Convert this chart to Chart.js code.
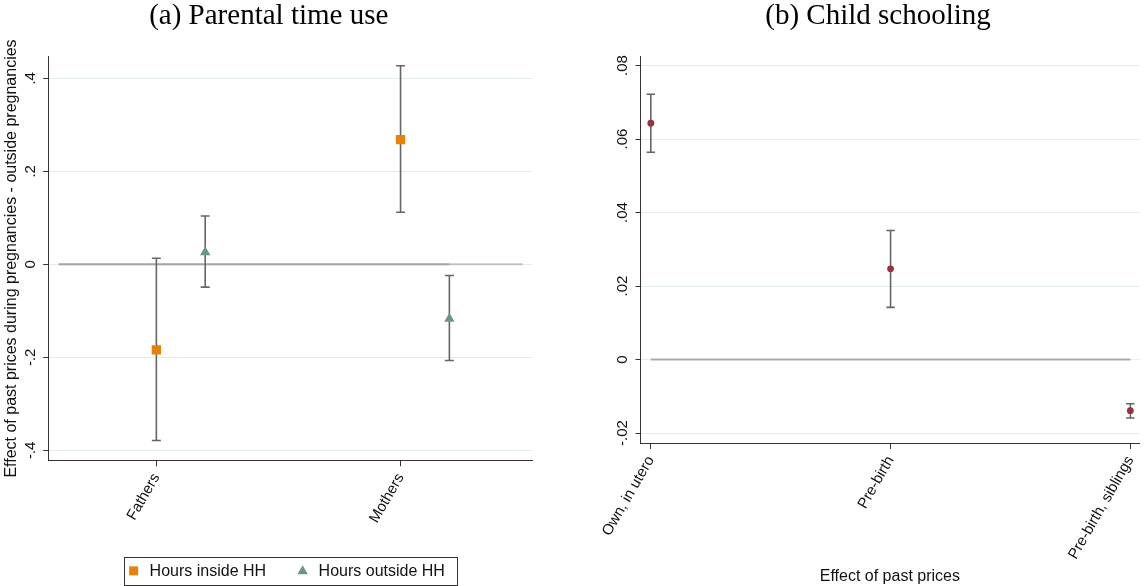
<!DOCTYPE html>
<html>
<head>
<meta charset="utf-8">
<title>Effect of past prices</title>
<script src="https://cdn.jsdelivr.net/npm/chart.js@4.4.1/dist/chart.umd.min.js"></script>
<style>
  html, body { margin: 0; padding: 0; background: #fff; }
  body { width: 1145px; height: 586px; position: relative; overflow: hidden; }
  .panel { position: absolute; top: 0; }
  #panelA { left: 0; width: 539px; height: 586px; }
  #panelB { left: 585px; width: 560px; height: 586px; }
</style>
</head>
<body>
<div class="panel" id="panelA"><canvas id="chartA" width="539" height="586"></canvas></div>
<div class="panel" id="panelB"><canvas id="chartB" width="560" height="586"></canvas></div>
<script>
// (a) Parental time use
const parentCats = ['Fathers', 'Mothers'];
const insideEst  = [-0.184, 0.268];
const insideLo   = [-0.379, 0.112];
const insideHi   = [0.013, 0.427];
const outsideEst = [0.026, -0.117];
const outsideLo  = [-0.049, -0.207];
const outsideHi  = [0.104, -0.024];
const yTicksA  = [-0.4, -0.2, 0, 0.2, 0.4];
const yLabelsA = ['-.4', '-.2', '0', '.2', '.4'];
const zeroLinesA = [[0.6, 2.5], [0.6, 2.2]];

// (b) Child schooling
const schoolCats = ['Own, in utero', 'Pre-birth', 'Pre-birth, siblings'];
const schoolEst = [0.0643, 0.0247, -0.0139];
const schoolLo  = [0.0564, 0.0142, -0.0159];
const schoolHi  = [0.0722, 0.0351, -0.0120];
const yTicksB  = [-0.02, 0, 0.02, 0.04, 0.06, 0.08];
const yLabelsB = ['-.02', '0', '.02', '.04', '.06', '.08'];
const zeroLineB = [1, 3];

const ORANGE = '#e8810a';
const SEA = '#6a9686';
const CRAN = '#993140';
const BAR = '#666666';
const OUTSIDE_SHIFT = 0.2; // outside-HH markers sit right of the category

Chart.defaults.font.family = '"Liberation Sans", Arial, sans-serif';
Chart.defaults.color = '#111';

function ciSet(x, lo, hi, cap){
    return {
        data: [{x: x, y: lo}, {x: x, y: hi}],
        showLine: true, borderColor: BAR, borderWidth: 1.6,
        pointStyle: 'line', pointRadius: cap, pointHoverRadius: cap,
        pointBorderColor: BAR, pointBorderWidth: 1.6
    };
}

function flatLine(x0, x1, color, width){
    return {
        data: [{x: x0, y: 0}, {x: x1, y: 0}],
        showLine: true, borderColor: color, borderWidth: width, pointRadius: 0
    };
}

function xScale(min, max, cats, height, title){
    return {
        type: 'linear', position: 'bottom', min: min, max: max,
        afterBuildTicks: s => { s.ticks = cats.map((c, i) => ({value: i + 1})); },
        afterFit: s => { s.height = height; s.paddingLeft = 0; s.paddingRight = 0; },
        ticks: {
            autoSkip: false, minRotation: 60, maxRotation: 60, padding: 4,
            font: {size: 15}, color: '#111',
            callback: v => cats[Math.round(v) - 1]
        },
        grid: { drawOnChartArea: false, drawTicks: true, tickLength: 6, tickColor: '#333', tickWidth: 1 },
        border: { color: '#333', width: 1 },
        title: title
            ? { display: true, text: title, font: {size: 16}, color: '#111', padding: {top: 0, bottom: 0} }
            : { display: false }
    };
}

function yScale(min, max, vals, width, title){
    return {
        type: 'linear', min: min, max: max,
        afterBuildTicks: s => { s.ticks = vals.map(v => ({value: v})); },
        afterFit: s => { s.width = width; s.paddingTop = 0; s.paddingBottom = 0; },
        ticks: { display: false },
        grid: { color: '#e3ecef', lineWidth: 1, drawTicks: true, tickLength: 5, tickColor: '#333', tickWidth: 1 },
        border: { color: '#333', width: 1 },
        title: title
            ? { display: true, text: title, font: {size: 16}, color: '#111', padding: {top: 2, bottom: 0} }
            : { display: false }
    };
}

// vertical (Stata style) y tick labels
const yTickLabels = {
    id: 'yTickLabels',
    afterDraw(chart, args, opts){
        const s = chart.scales.y, ctx = chart.ctx;
        ctx.save();
        ctx.font = '15px "Liberation Sans", Arial, sans-serif';
        ctx.fillStyle = '#111';
        ctx.textAlign = 'center';
        ctx.textBaseline = 'alphabetic';
        s.ticks.forEach((t, i) => {
            ctx.save();
            ctx.translate(s.right - 13.5, s.getPixelForValue(t.value));
            ctx.rotate(-Math.PI / 2);
            ctx.fillText(opts.labels[i], 0, 0);
            ctx.restore();
        });
        ctx.restore();
    }
};

// boxed legend under panel (a)
const boxLegend = {
    id: 'boxLegend',
    afterDraw(chart, args, opts){
        if(!opts.show) return;
        const ctx = chart.ctx, area = chart.chartArea;
        const items = chart.data.datasets.filter(d => d.label);
        ctx.save();
        ctx.font = '16px "Liberation Sans", Arial, sans-serif';
        const w1 = ctx.measureText(items[0].label).width;
        const w2 = ctx.measureText(items[1].label).width;
        const boxW = 89.8 + w1 + w2, boxH = 28.3;
        const left = (area.left + area.right) / 2 - boxW / 2;
        const top = opts.top;
        const cy = top + boxH / 2;
        ctx.strokeStyle = '#333';
        ctx.lineWidth = 1;
        ctx.strokeRect(Math.round(left) + 0.5, Math.round(top) + 0.5, Math.round(boxW), Math.round(boxH));

        let mx = left + 9.6;
        items.forEach((it, i) => {
            ctx.fillStyle = it.backgroundColor;
            ctx.beginPath();
            if(it.pointStyle === 'triangle'){
                ctx.moveTo(mx, cy - 5.5);
                ctx.lineTo(mx + 5.2, cy + 3.5);
                ctx.lineTo(mx - 5.2, cy + 3.5);
                ctx.closePath();
            } else {
                ctx.rect(mx - 4.5, cy - 4.5, 9, 9);
            }
            ctx.fill();
            ctx.fillStyle = '#111';
            ctx.textAlign = 'left';
            ctx.textBaseline = 'middle';
            ctx.fillText(it.label, mx + 16, cy + 0.5);
            mx += 16 + (i === 0 ? w1 : w2) + 36.5;
        });
        ctx.restore();
    }
};

function titleOpts(text, bottomPad){
    return {
        display: true, text: text, color: '#000',
        font: { family: '"Liberation Serif", "Times New Roman", serif', size: 29, weight: 'normal', lineHeight: 1 },
        padding: { top: 1.5, bottom: bottomPad }
    };
}

// ---- panel (a)
const dsA = [];
dsA.push({
    label: 'Hours inside HH',
    data: parentCats.map((c, i) => ({x: i + 1, y: insideEst[i]})),
    showLine: false, pointStyle: 'rect', pointRadius: 6.6, pointHoverRadius: 6.6,
    backgroundColor: ORANGE, borderColor: ORANGE, pointBorderWidth: 0
});
dsA.push({
    label: 'Hours outside HH',
    data: parentCats.map((c, i) => ({x: i + 1 + OUTSIDE_SHIFT, y: outsideEst[i]})),
    showLine: false, pointStyle: 'triangle', pointRadius: 6, pointHoverRadius: 6,
    backgroundColor: SEA, borderColor: SEA, pointBorderWidth: 0
});
parentCats.forEach((c, i) => {
    dsA.push(ciSet(i + 1, insideLo[i], insideHi[i], 4.5));
    dsA.push(ciSet(i + 1 + OUTSIDE_SHIFT, outsideLo[i], outsideHi[i], 4.5));
});
zeroLinesA.forEach(z => dsA.push(flatLine(z[0], z[1], 'rgba(136,136,136,0.45)', 2)));

new Chart(document.getElementById('chartA'), {
    type: 'line',
    data: { datasets: dsA },
    plugins: [yTickLabels, boxLegend],
    options: {
        responsive: false, animation: false, events: [],
        layout: { padding: { left: 0, right: 1.5, top: 0, bottom: 0 } },
        scales: {
            x: xScale(0.557, 2.54, parentCats, 125.7, null),
            y: yScale(-0.4215, 0.4465, yTicksA, 48.2,
                'Effect of past prices during pregnancies - outside pregnancies')
        },
        plugins: {
            legend: { display: false },
            tooltip: { enabled: false },
            title: titleOpts('(a) Parental time use', 26.2),
            yTickLabels: { labels: yLabelsA },
            boxLegend: { show: true, top: 556.7 }
        }
    }
});

// ---- panel (b)
const dsB = [];
dsB.push({
    data: schoolCats.map((c, i) => ({x: i + 1, y: schoolEst[i]})),
    showLine: false, pointStyle: 'circle', pointRadius: 3.4, pointHoverRadius: 3.4,
    backgroundColor: CRAN, borderColor: CRAN, pointBorderWidth: 0
});
schoolCats.forEach((c, i) => dsB.push(ciSet(i + 1, schoolLo[i], schoolHi[i], 4.2)));
dsB.push(flatLine(zeroLineB[0], zeroLineB[1], '#ababab', 2));

new Chart(document.getElementById('chartB'), {
    type: 'line',
    data: { datasets: dsB },
    plugins: [yTickLabels],
    options: {
        responsive: false, animation: false, events: [],
        layout: { padding: { left: 26, right: 0, top: 0, bottom: 0 } },
        scales: {
            x: xScale(0.957, 3.037, schoolCats, 143, 'Effect of past prices'),
            y: yScale(-0.0227, 0.0826, yTicksB, 29.5, null)
        },
        plugins: {
            legend: { display: false },
            tooltip: { enabled: false },
            title: titleOpts('(b) Child schooling', 25.5),
            yTickLabels: { labels: yLabelsB }
        }
    }
});
</script>
</body>
</html>
